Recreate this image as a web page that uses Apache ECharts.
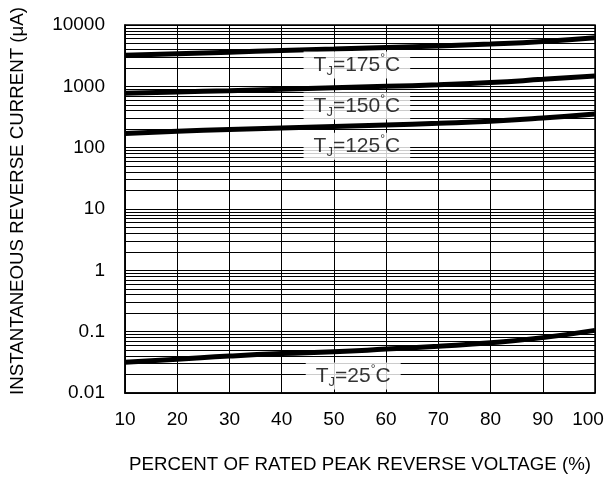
<!DOCTYPE html>
<html>
<head>
<meta charset="utf-8">
<script src="https://cdn.jsdelivr.net/npm/echarts@6/dist/echarts.min.js"></script>
<style>
  html, body { margin: 0; padding: 0; background: #fff; }
  #chart { width: 608px; height: 478px; }
</style>
</head>
<body>
<div id="chart"></div>
<script>
// percent of rated peak reverse voltage
const voltagePct = [10, 20, 30, 40, 50, 60, 70, 80, 90, 100]

// reverse current (uA) per junction temperature
const tj175 = [3200, 3400, 3600, 3850, 4050, 4300, 4550, 4900, 5400, 6200]
const tj150 = [770, 810, 850, 900, 950, 1000, 1060, 1150, 1300, 1480]
const tj125 = [170, 185, 198, 210, 222, 235, 250, 270, 305, 355]
const tj25 = [0.0316, 0.0354, 0.040, 0.044, 0.047, 0.052, 0.058, 0.066, 0.080, 0.105]

// curve labels: [x, y, temperature]
const curveLabels = [
  [54.4, 2230, '175'],
  [54.4, 477, '150'],
  [54.4, 105, '125'],
  [53.7, 0.0189, '25']
]

// minor log grid lines (2..9 in each decade)
const decades = [0.01, 0.1, 1, 10, 100, 1000]
const minorSteps = [2, 3, 4, 5, 6, 7, 8, 9]

const chart = echarts.init(document.getElementById('chart'))

const font = 'Liberation Sans, Arial, sans-serif'

const minorLines = []
decades.forEach(d => {
  minorSteps.forEach(s => minorLines.push({ yAxis: d * s }))
})

function curve(data) {
  return {
    type: 'line',
    data: voltagePct.map((x, i) => [x, data[i]]),
    smooth: true,
    symbol: 'none',
    lineStyle: { color: '#000', width: 5 },
    z: 5
  }
}

const option = {
  animation: false,
  backgroundColor: '#fff',
  grid: {
    left: 125,
    right: 13,
    top: 25,
    bottom: 85,
    outerBoundsMode: 'none',
    containLabel: false,
    show: true,
    borderColor: '#000',
    borderWidth: 1.5
  },
  xAxis: {
    type: 'value',
    min: 10,
    max: 100,
    interval: 10,
    name: 'PERCENT OF RATED PEAK REVERSE VOLTAGE (%)',
    nameLocation: 'middle',
    nameMoveOverlap: false,
    nameGap: 62,
    nameTextStyle: { fontFamily: font, fontSize: 18.7, color: '#000' },
    axisLine: { lineStyle: { color: '#000', width: 1.5 } },
    axisTick: { show: false },
    axisLabel: {
      fontFamily: font, fontSize: 19, color: '#000', margin: 17,
      // last label sits a bit left of its gridline in the original
      formatter: v => (v === 100 ? '{last|100}' : String(v)),
      rich: {
        last: { fontFamily: font, fontSize: 19, color: '#000', padding: [0, 14, 0, 0] }
      }
    },
    splitLine: { lineStyle: { color: '#000', width: 1 } }
  },
  yAxis: {
    type: 'log',
    logBase: 10,
    min: 0.01,
    max: 10000,
    name: 'INSTANTANEOUS REVERSE CURRENT (μA)',
    nameLocation: 'middle',
    nameMoveOverlap: false,
    nameRotate: 90,
    nameGap: 98,
    nameTextStyle: { fontFamily: font, fontSize: 18.7, color: '#000', padding: [0, 0, 0, 16] },
    axisLine: { lineStyle: { color: '#000', width: 1.5 } },
    axisTick: { show: false },
    axisLabel: {
      fontFamily: font, fontSize: 19, color: '#000', margin: 20,
      formatter: v => String(v)
    },
    splitLine: { lineStyle: { color: '#000', width: 1 } }
  },
  series: [
    {
      type: 'line',
      data: [],
      silent: true,
      markLine: {
        silent: true,
        symbol: 'none',
        label: { show: false },
        lineStyle: { color: '#000', width: 1, type: 'solid' },
        data: minorLines
      },
      z: 1
    },
    curve(tj175),
    curve(tj150),
    curve(tj125),
    curve(tj25),
    {
      type: 'scatter',
      symbolSize: 0,
      z: 10,
      data: curveLabels.map(d => ({ value: [d[0], d[1]], name: d[2] })),
      label: {
        show: true,
        position: 'inside',
        backgroundColor: '#fff',
        padding: [1, 10, 1, 10],
        formatter: p => '{t|T}{sub|J}{t|=' + p.name + '}{deg|°}{t|C}',
        rich: {
          t: { fontFamily: font, fontSize: 21, color: '#000' },
          sub: { fontFamily: font, fontSize: 13, color: '#000', verticalAlign: 'bottom', padding: [12, 0, 0, 0] },
          deg: { fontFamily: font, fontSize: 12, color: '#000', verticalAlign: 'top', padding: [0, 0, 8, 0] }
        }
      }
    }
  ]
}

chart.setOption(option)
</script>
</body>
</html>
